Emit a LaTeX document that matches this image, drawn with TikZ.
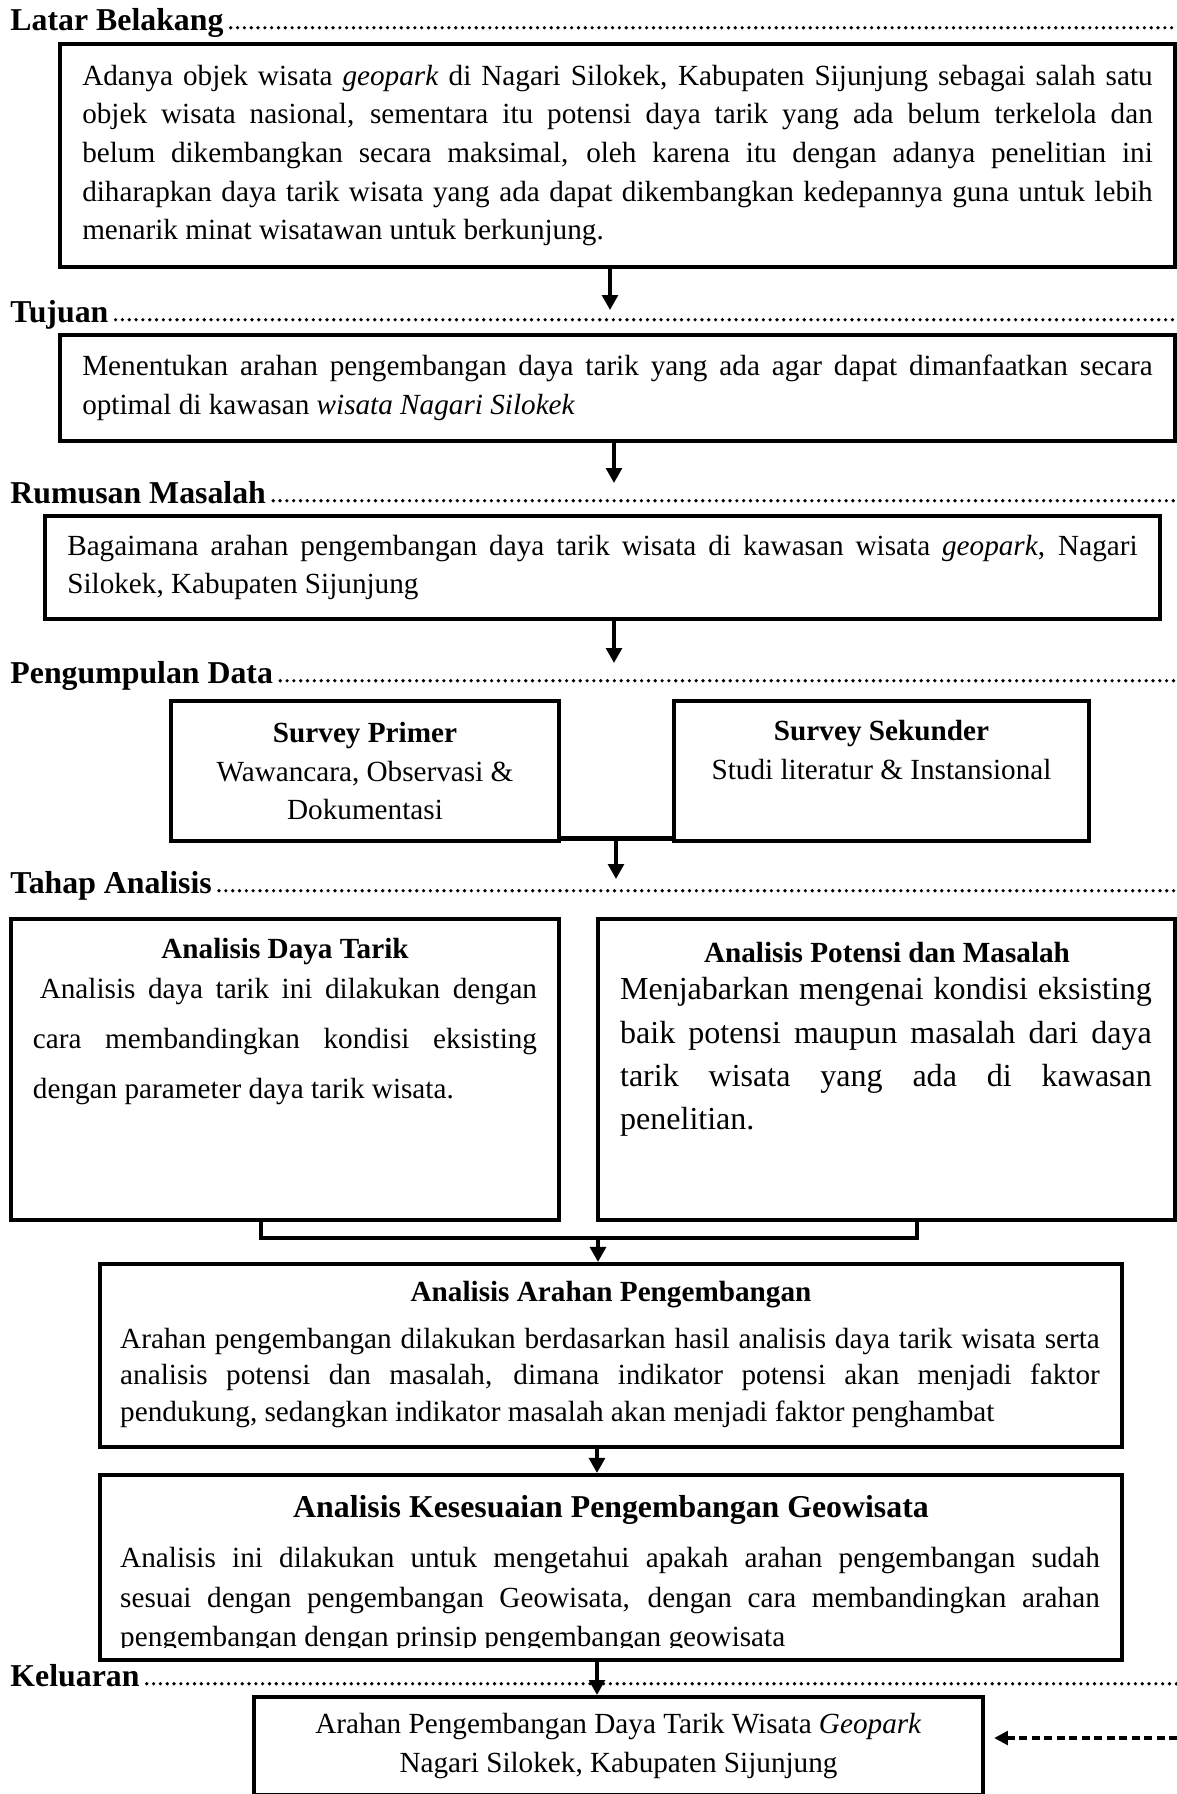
\documentclass[tikz,border=0pt]{standalone}
\usepackage{fontspec}
\setmainfont{Liberation Serif}
\usetikzlibrary{arrows.meta}
\hyphenpenalty=10000
\exhyphenpenalty=10000

\begin{document}
\begin{tikzpicture}[x=0.44pt, y=-0.44pt,
     box/.style={draw, line width=1.8pt, inner sep=0pt},
     head/.style={anchor=base west, inner sep=0pt, font=\bfseries\fontsize{14}{16}\selectfont},
     title/.style={inner sep=0pt, font=\bfseries\fontsize{12.85}{15}\selectfont},
     txt/.style={align=justify, inner sep=0pt, font=\fontsize{12.85}{17}\selectfont},
     leader/.style={line width=1.6pt, line cap=round, dash pattern=on 0pt off 3pt},
     joinline/.style={line width=1.8pt},
     arr/.style={line width=1.6pt, -{Triangle[length=6.6pt, width=6.9pt]}},
     darr/.style={line width=1.4pt, dash pattern=on 3.5pt off 2pt, -{Triangle[length=6pt, width=6pt]}}]
     \useasboundingbox (0,0) rectangle (1177,1794);
     \coordinate (R) at (1177,0);

     % section labels
     \node[head] (LA) at (10,30) {Latar Belakang};
     \node[head] (LB) at (10,322) {Tujuan};
     \node[head] (LC) at (10,503) {Rumusan Masalah};
     \node[head] (LD) at (10,683) {Pengumpulan Data};
     \node[head] (LE) at (10,893) {Tahap Analisis};
     \node[head] (LF) at (10,1686) {Keluaran};
     \foreach \l in {LA,LB,LC,LD,LE,LF}
          \draw[leader] ([xshift=3pt,yshift=1pt]\l.base east) -- ([yshift=1pt]\l.base -| R);

     % boxes
     \node[box, txt, minimum width=490.6pt, minimum height=98.1pt, text width=471pt] (A) at (617.5,155.5)
          {Adanya objek wisata \textit{geopark} di Nagari Silokek, Kabupaten Sijunjung sebagai salah satu\linebreak{} objek wisata nasional, sementara itu potensi daya tarik yang ada belum terkelola dan\linebreak{} belum dikembangkan secara maksimal, oleh karena itu dengan adanya penelitian ini\linebreak{} diharapkan daya tarik wisata yang ada dapat dikembangkan kedepannya guna untuk lebih\linebreak{} menarik minat wisatawan untuk berkunjung.};
     \node[box, txt, minimum width=490.6pt, minimum height=46.6pt, text width=471pt] (B) at (617.5,388)
          {Menentukan arahan pengembangan daya tarik yang ada agar dapat dimanfaatkan secara\linebreak{} optimal di kawasan \textit{wisata Nagari Silokek}};
     \node[box, txt, minimum width=490.6pt, minimum height=45.3pt, text width=471pt] (C) at (602.5,567.5)
          {Bagaimana arahan pengembangan daya tarik wisata di kawasan wisata \textit{geopark}, Nagari\linebreak{} Silokek, Kabupaten Sijunjung};
     \node[box, txt, align=center, minimum width=170.7pt, minimum height=61.6pt] (D) at (365,771)
          {\textbf{Survey Primer}\\ Wawancara, Observasi \&\\ Dokumentasi};
     \node[box, minimum width=182.6pt, minimum height=61.6pt] (E) at (881.5,771) {};
     \node[txt, align=center] (Et) at (881.5,750) {\textbf{Survey Sekunder}\\ Studi literatur \& Instansional};
     \node[box, minimum width=241.1pt, minimum height=132.4pt] (F) at (285,1069.5) {};
     \node[title] (Fh) at (285,952) {Analisis Daya Tarik};
     \node[txt, font=\fontsize{12.85}{22}\selectfont, text width=221.8pt] (Fb) at (285,1042)
          {\hspace*{3pt}Analisis daya tarik ini dilakukan dengan\linebreak{} cara membandingkan kondisi eksisting\linebreak{} dengan parameter daya tarik wisata.};
     \node[box, minimum width=253.9pt, minimum height=132.4pt] (G) at (886.5,1069.5) {};
     \node[title] (Gh) at (887,952) {Analisis Potensi dan Masalah};
     \node[txt, font=\fontsize{14.1}{19}\selectfont, text width=234pt] (Gb) at (886,1057)
          {Menjabarkan mengenai kondisi eksisting\linebreak{} baik potensi maupun masalah dari daya\linebreak{} tarik wisata yang ada di kawasan\linebreak{} penelitian.};
     \node[box, minimum width=449.7pt, minimum height=80.5pt] (H) at (611,1355.5) {};
     \node[title] (Hh) at (611,1295) {Analisis Arahan Pengembangan};
     \node[txt, font=\fontsize{12.85}{16}\selectfont, text width=431pt] (Hb) at (610,1378)
          {Arahan pengembangan dilakukan berdasarkan hasil analisis daya tarik wisata serta\linebreak{} analisis potensi dan masalah, dimana indikator potensi akan menjadi faktor\linebreak{} pendukung, sedangkan indikator masalah akan menjadi faktor penghambat};
     \node[box, minimum width=449.7pt, minimum height=81.4pt] (I) at (611,1567.5) {};
     \node[title, font=\bfseries\fontsize{14}{16}\selectfont] (Ih) at (611,1510) {Analisis Kesesuaian Pengembangan Geowisata};
     \begin{scope}
          \clip (100,1475) rectangle (1122,1647);
          \node[txt, font=\fontsize{12.85}{17.5}\selectfont, text width=431pt] (Ib) at (610,1600)
               {Analisis ini dilakukan untuk mengetahui apakah arahan pengembangan sudah\linebreak{} sesuai dengan pengembangan Geowisata, dengan cara membandingkan arahan\linebreak{} pengembangan dengan prinsip pengembangan geowisata};
     \end{scope}
     \node[box, txt, align=center, minimum width=320.8pt, minimum height=43.1pt] (J) at (618.5,1746)
          {Arahan Pengembangan Daya Tarik Wisata \textit{Geopark}\\ Nagari Silokek, Kabupaten Sijunjung};

     % connectors
     \coordinate (a1) at (610,310);
     \coordinate (a2) at (614,483);
     \coordinate (a3) at (614,663);
     \coordinate (a4) at (616,879);
     \coordinate (a5) at (597,0);
     \coordinate (j1) at (261,1238);
     \coordinate (j2) at (917,1238);
     \coordinate (j3) at (598,1238);
     \coordinate (d1) at (1177,1738);
     \draw[arr] (a1 |- A.south) -- (a1);
     \draw[arr] (a2 |- B.south) -- (a2);
     \draw[arr] (a3 |- C.south) -- (a3);
     \draw[joinline] ([yshift=2pt]D.south east) -- ([yshift=2pt]E.south west);
     \draw[arr] ([yshift=2pt]a4 |- D.south) -- (a4);
     \draw[joinline] (j1 |- F.south) -- (j1) -- (j2) -- (j2 |- G.south);
     \draw[arr] (j3) -- (j3 |- H.north);
     \draw[arr] (a5 |- H.south) -- (a5 |- I.north);
     \draw[arr] (a5 |- I.south) -- (a5 |- J.north);
     \draw[darr, shorten >=4pt] (d1) -- (d1 -| J.east);
\end{tikzpicture}
\end{document}
